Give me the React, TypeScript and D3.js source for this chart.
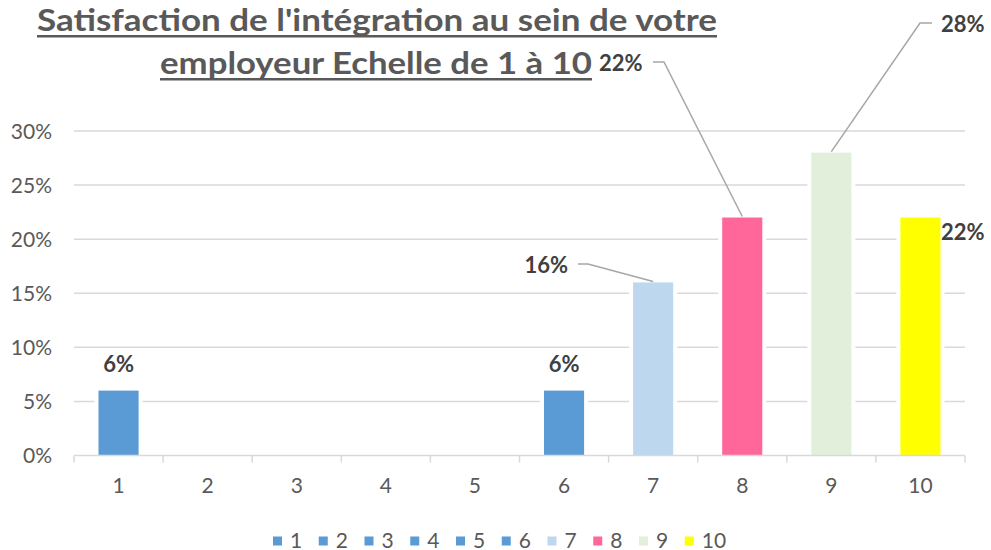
import React from 'react';
import * as d3 from 'd3';

// réponses (n = 50) sur l'échelle 1 à 10
const categories = ['1', '2', '3', '4', '5', '6', '7', '8', '9', '10'];
const values = [0.06, 0, 0, 0, 0, 0.06, 0.16, 0.22, 0.28, 0.22];
const colors = ['#5b9bd5', '#5b9bd5', '#5b9bd5', '#5b9bd5', '#5b9bd5', '#5b9bd5', '#bdd7ee', '#ff6699', '#e2efda', '#ffff00'];
const yTicks = [0, 0.05, 0.1, 0.15, 0.2, 0.25, 0.3];
const titleLines = ["Satisfaction de l'intégration au sein de votre", 'employeur Echelle de 1 à 10'];

// positions des étiquettes déplacées (avec ligne de rappel)
const movedLabels: { [k: string]: { x: number; y: number; anchor: string; elbow?: number } } = {
  '7': { x: 568, y: 265, anchor: 'end', elbow: 588 },
  '8': { x: 599, y: 63, anchor: 'start', elbow: 664 },
  '9': { x: 941, y: 24, anchor: 'start', elbow: 920 },
  '10': { x: 941, y: 232, anchor: 'start' },
};

const font = 'Lato, "Open Sans", sans-serif';

export default function App() {
  const width = 991;
  const height = 550;
  const margin = { top: 131, right: 26, bottom: 94.5, left: 74 };

  const x = d3.scaleBand()
    .domain(categories)
    .range([margin.left, width - margin.right])
    .paddingInner(0.55)
    .paddingOuter(0.275);

  const y = d3.scaleLinear()
    .domain([0, 0.3])
    .range([height - margin.bottom, margin.top]);

  const step = x.step();
  const left = margin.left;
  const baseY = y(0);
  const fmt = d3.format('.0%');

  return (
    <svg width={width} height={height} style={{ position: 'absolute', left: 0, top: 0, background: '#fff' }}>
      {/* titre */}
      <g fill="#595959" fontFamily={font} fontWeight="bold" fontSize={30}>
        <text x={377} y={31} textAnchor="middle" textLength={680} lengthAdjust="spacingAndGlyphs">{titleLines[0]}</text>
        <rect x={37} y={35} width={680} height={2.5} />
        <text x={376} y={74} textAnchor="middle" textLength={432} lengthAdjust="spacingAndGlyphs">{titleLines[1]}</text>
        <rect x={160} y={78} width={432} height={2.5} />
      </g>

      {/* grille */}
      <g stroke="#d9d9d9" strokeWidth={1.5}>
        {yTicks.slice(1).map(t => (
          <line key={t} x1={left} x2={width - margin.right} y1={y(t)} y2={y(t)} />
        ))}
      </g>
      <g fill="#595959" fontFamily={font} fontSize={21} textAnchor="end">
        {yTicks.map(t => (
          <text key={t} x={52} y={y(t)} dy="0.36em">{fmt(t)}</text>
        ))}
      </g>

      {/* barres */}
      {categories.map((c, i) => values[i] > 0 && (
        <rect key={'w' + c} x={x(c)! - 4} y={y(values[i]) - 4} width={x.bandwidth() + 8}
          height={baseY - y(values[i]) + 4} fill="#fff" />
      ))}
      {categories.map((c, i) => values[i] > 0 && (
        <rect key={c} x={x(c)} y={y(values[i])} width={x.bandwidth()}
          height={baseY - y(values[i])} fill={colors[i]} />
      ))}

      {/* axe x */}
      <g stroke="#d9d9d9" strokeWidth={1.5}>
        <line x1={left} x2={width - margin.right} y1={baseY} y2={baseY} />
        {d3.range(categories.length + 1).map(k => (
          <line key={k} x1={left + k * step} x2={left + k * step} y1={baseY} y2={baseY + 7} />
        ))}
      </g>
      <g fill="#595959" fontFamily={font} fontSize={21} textAnchor="middle">
        {categories.map(c => (
          <text key={c} x={x(c)! + x.bandwidth() / 2} y={493}>{c}</text>
        ))}
      </g>

      {/* étiquettes */}
      <g fill="#404040" fontFamily={font} fontWeight="bold" fontSize={22}>
        {categories.map((c, i) => {
          if (values[i] <= 0) return null;
          const cx = x(c)! + x.bandwidth() / 2;
          const top = y(values[i]);
          const m = movedLabels[c];
          if (!m) {
            return <text key={c} x={cx} y={top - 27} dy="0.36em" textAnchor="middle">{fmt(values[i])}</text>;
          }
          const lineY = m.y - 1;
          const startX = m.anchor === 'end' ? m.x + 10 : (m.elbow! > m.x ? m.x + 54 : m.x - 9);
          return (
            <g key={c}>
              {m.elbow !== undefined && (
                <polyline points={`${startX},${lineY} ${m.elbow},${lineY} ${cx},${top - 1}`}
                  fill="none" stroke="#a6a6a6" strokeWidth={1.5} />
              )}
              <text x={m.x} y={m.y} dy="0.36em" textAnchor={m.anchor}>{fmt(values[i])}</text>
            </g>
          );
        })}
      </g>

      {/* légende */}
      <g fontFamily={font} fontSize={21} fill="#595959">
        {categories.map((c, i) => (
          <g key={c} transform={`translate(${273 + i * 45.75},0)`}>
            <rect x={0} y={536.5} width={9} height={9} fill={colors[i]} />
            <text x={17} y={547.5}>{c}</text>
          </g>
        ))}
      </g>
    </svg>
  );
}
